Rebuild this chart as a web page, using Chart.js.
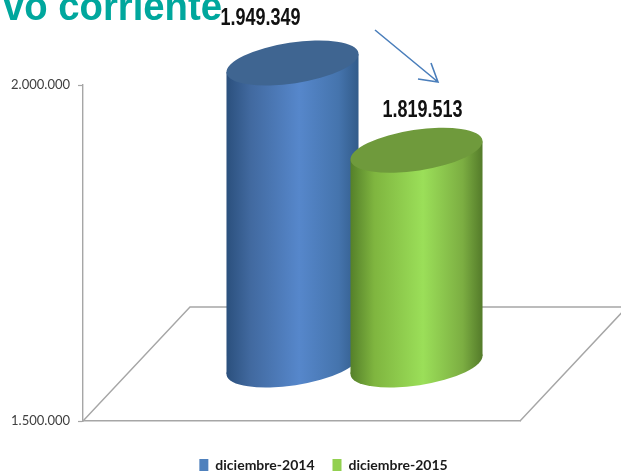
<!DOCTYPE html>
<html lang="es">
<head>
<meta charset="utf-8">
<title>Activo corriente</title>
<style>
html,body{margin:0;padding:0;background:#fff;overflow:hidden}
canvas{display:block}
</style>
<script src="https://cdn.jsdelivr.net/npm/chart.js@4/dist/chart.umd.js"></script>
</head>
<body>
<canvas id="c" width="621" height="475"></canvas>
<script>
const categories = [''];
const seriesNames = ['diciembre-2014', 'diciembre-2015'];
const values2014 = [1949349];
const values2015 = [1819513];
const axisMin = 1500000;
const axisMax = 2000000;
const axisStep = 500000;
const titleText = 'vo corriente';

const seriesColors = ['#4f81bd', '#92d050'];
const capColors = ['#3f6591', '#6f9a3c'];
const sideStops = [
  ['#2b507d', '#41699f', '#5687cb', '#4574ad', '#325b8a'],
  ['#55802a', '#7fb53f', '#9bdf59', '#7cae42', '#547b2a']
];
const stopAt = [0, 0.18, 0.55, 0.85, 1];
const GRID = '#a6a6a6';
const FONT = 'Lato,"Liberation Sans",sans-serif';
const depth = {dx: 107, dy: -114};            // full floor depth
const barShift = {dx: 53, dy: -56};           // bars sit in the middle of that depth
const cap = {a: 66.7, b: 20.4, tilt: -8.6 * Math.PI / 180};
const labelOffset = [{dx: -32, dy: -46}, {dx: 6, dy: -41}];

function fitText(ctx, text, x, y, width, yScale, font, color) {
  ctx.save();
  ctx.font = font;
  ctx.fillStyle = color;
  ctx.textAlign = 'left';
  ctx.textBaseline = 'alphabetic';
  const w = ctx.measureText(text).width;
  ctx.translate(x, y);
  ctx.scale(width / w, yScale);
  ctx.fillText(text, 0, 0);
  ctx.restore();
}

function drawCylinder(ctx, cx, top, base, i) {
  const c = Math.cos(cap.tilt), s = Math.sin(cap.tilt);
  const hw = Math.sqrt(cap.a*cap.a*c*c + cap.b*cap.b*s*s);
  const off = (cap.a*cap.a - cap.b*cap.b) * s * c / hw;   // y offset of the right tangent
  const g = ctx.createLinearGradient(cx - hw, 0, cx + hw, 0);
  sideStops[i].forEach((col, k) => g.addColorStop(stopAt[k], col));
  ctx.fillStyle = g;
  ctx.beginPath();
  ctx.ellipse(cx, base, cap.a, cap.b, cap.tilt, 0, Math.PI * 2);
  ctx.fill();
  ctx.beginPath();
  ctx.moveTo(cx - hw, top - off);
  ctx.lineTo(cx + hw, top + off);
  ctx.lineTo(cx + hw, base + off);
  ctx.lineTo(cx - hw, base - off);
  ctx.closePath();
  ctx.fill();
  ctx.fillStyle = capColors[i];
  ctx.beginPath();
  ctx.ellipse(cx, top, cap.a, cap.b, cap.tilt, 0, Math.PI * 2);
  ctx.fill();
}

const scene = {
  id: 'scene',
  afterLayout(chart) {
    const lg = chart.legend;
    lg.left += 63.5; lg.right += 63.5;
    lg.top += 7; lg.bottom += 7;
  },
  beforeDatasetsDraw(chart) {
    const {ctx, chartArea: a} = chart;
    ctx.save();
    ctx.strokeStyle = GRID;
    ctx.lineWidth = 1.4;
    ctx.beginPath();
    ctx.moveTo(a.left, a.bottom);
    ctx.lineTo(a.left + depth.dx, a.bottom + depth.dy);
    ctx.lineTo(a.right + depth.dx, a.bottom + depth.dy);
    ctx.lineTo(a.right, a.bottom);
    ctx.stroke();
    const base = chart.scales.y.getPixelForValue(axisMin);
    chart.data.datasets.forEach((ds, i) => {
      const el = chart.getDatasetMeta(i).data[0];
      drawCylinder(ctx, el.x + barShift.dx, el.y + barShift.dy, base + barShift.dy, i);
    });
    ctx.restore();
  },
  beforeDatasetDraw() {
    return false;   // the cylinders above replace the flat bars
  },
  afterDatasetsDraw(chart) {
    const ctx = chart.ctx;
    ctx.save();
    fitText(ctx, titleText, 3, 20, 219, 1, 'bold 41px "Liberation Sans",sans-serif', '#00a79d');
    // trend arrow
    ctx.strokeStyle = '#4a7ebb';
    ctx.lineWidth = 1.6;
    ctx.beginPath();
    ctx.moveTo(375, 30); ctx.lineTo(438, 82);
    ctx.moveTo(431, 63); ctx.lineTo(438, 82); ctx.lineTo(418, 79);
    ctx.stroke();
    // value labels
    chart.data.datasets.forEach((ds, i) => {
      const el = chart.getDatasetMeta(i).data[0];
      const text = fmt(ds.data[0]);
      const cx = el.x + barShift.dx + labelOffset[i].dx;
      const y = el.y + barShift.dy + labelOffset[i].dy + 8;
      fitText(ctx, text, cx - 40, y, 80, 1.15, 'bold 21px "Liberation Sans",sans-serif', '#111');
    });
    ctx.restore();
  }
};

function fmt(v) {
  return String(v).replace(/\B(?=(\d{3})+$)/g, '.');
}

new Chart(document.getElementById('c'), {
  type: 'bar',
  data: {
    labels: categories,
    datasets: [
      {label: seriesNames[0], data: values2014, backgroundColor: seriesColors[0], barPercentage: 1.0645, categoryPercentage: 0.5675},
      {label: seriesNames[1], data: values2015, backgroundColor: seriesColors[1], barPercentage: 1.0645, categoryPercentage: 0.5675}
    ]
  },
  plugins: [scene],
  options: {
    responsive: false,
    animation: false,
    events: [],
    layout: {padding: {top: 85, right: 101, left: 0, bottom: 0}},
    scales: {
      x: {
        grid: {display: false},
        border: {color: GRID, width: 1.4},
        ticks: {display: false},
        afterFit(s) { s.height = 12; }
      },
      y: {
        min: axisMin, max: axisMax,
        border: {color: GRID, width: 1.4},
        grid: {drawOnChartArea: false, color: GRID, tickLength: 5, tickWidth: 1.2},
        ticks: {
          stepSize: axisStep,
          padding: 8,
          color: '#404040',
          font: {family: FONT, size: 13},
          callback: v => fmt(v)
        },
        afterFit(s) { s.width = 83; }
      }
    },
    plugins: {
      title: {display: false},
      tooltip: {enabled: false},
      legend: {
        position: 'bottom',
        labels: {
          boxWidth: 9, boxHeight: 12, padding: 18,
          color: '#1a1a1a',
          font: {family: FONT, size: 14, weight: 'bold'}
        }
      }
    }
  }
});
</script>
</body>
</html>
